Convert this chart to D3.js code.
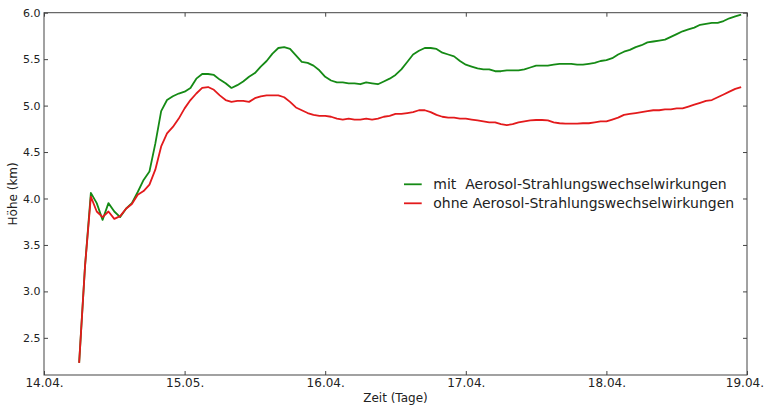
<!DOCTYPE html>
<html>
<head>
<meta charset="utf-8">
<script src="https://cdn.jsdelivr.net/npm/d3@7/dist/d3.min.js"></script>
<style>
  body { margin: 0; background: #fff; }
  svg { display: block; }
</style>
</head>
<body>
<div id="chart"></div>
<script>
// Data: hourly values, first sample at 14.04. 06:00
var startHour = 6;
var mitAerosol = [
  2.23, 3.27, 4.06, 3.95, 3.77, 3.95, 3.86, 3.80, 3.89, 3.95,
  4.07, 4.20, 4.29, 4.59, 4.94, 5.06, 5.10, 5.13, 5.15, 5.19,
  5.29, 5.34, 5.34, 5.33, 5.28, 5.24, 5.19, 5.22, 5.26, 5.31,
  5.35, 5.42, 5.48, 5.56, 5.62, 5.63, 5.61, 5.54, 5.47, 5.46,
  5.43, 5.38, 5.31, 5.27, 5.25, 5.25, 5.24, 5.24, 5.23, 5.25,
  5.24, 5.23, 5.26, 5.29, 5.33, 5.39, 5.47, 5.55, 5.59, 5.62,
  5.62, 5.61, 5.57, 5.55, 5.53, 5.48, 5.44, 5.42, 5.40, 5.39,
  5.39, 5.37, 5.37, 5.38, 5.38, 5.38, 5.39, 5.41, 5.43, 5.43,
  5.43, 5.44, 5.45, 5.45, 5.45, 5.44, 5.44, 5.45, 5.46, 5.48,
  5.49, 5.51, 5.55, 5.58, 5.60, 5.63, 5.65, 5.68, 5.69, 5.70,
  5.71, 5.74, 5.77, 5.80, 5.82, 5.84, 5.87, 5.88, 5.89, 5.89,
  5.91, 5.94, 5.96, 5.98
];
var ohneAerosol = [
  2.23, 3.27, 4.02, 3.86, 3.80, 3.86, 3.78, 3.81, 3.89, 3.94,
  4.04, 4.08, 4.15, 4.31, 4.56, 4.70, 4.77, 4.86, 4.97, 5.06,
  5.13, 5.19, 5.20, 5.17, 5.11, 5.06, 5.04, 5.05, 5.05, 5.04,
  5.08, 5.10, 5.11, 5.11, 5.11, 5.09, 5.04, 4.98, 4.95, 4.92,
  4.90, 4.89, 4.89, 4.88, 4.86, 4.85, 4.86, 4.85, 4.85, 4.86,
  4.85, 4.86, 4.88, 4.89, 4.91, 4.91, 4.92, 4.93, 4.95, 4.95,
  4.93, 4.90, 4.88, 4.87, 4.87, 4.86, 4.86, 4.85, 4.84, 4.83,
  4.82, 4.82, 4.80, 4.79, 4.80, 4.82, 4.83, 4.84, 4.845, 4.845,
  4.84, 4.82, 4.81, 4.805, 4.805, 4.805, 4.81, 4.81, 4.82, 4.83,
  4.83, 4.85, 4.87, 4.90, 4.91, 4.92, 4.93, 4.94, 4.95, 4.95,
  4.96, 4.96, 4.97, 4.97, 4.99, 5.01, 5.03, 5.05, 5.06, 5.09,
  5.12, 5.15, 5.18, 5.20
];
var dayTicks = [0, 1, 2, 3, 4, 5];
var dayLabels = ["14.04.", "15.05.", "16.04.", "17.04.", "18.04.", "19.04."];
var yTicks = [2.5, 3.0, 3.5, 4.0, 4.5, 5.0, 5.5, 6.0];
var seriesNames = ["mit  Aerosol-Strahlungswechselwirkungen", "ohne Aerosol-Strahlungswechselwirkungen"];
var seriesColours = ["#158a15", "#e31a1c"];

var width = 764, height = 408;
var margin = { top: 12.7, right: 17, bottom: 33, left: 44 };
var innerW = width - margin.left - margin.right;
var innerH = height - margin.top - margin.bottom;
var font = "'DejaVu Sans', sans-serif";

var svg = d3.select("#chart").append("svg")
  .attr("width", width).attr("height", height);
var g = svg.append("g")
  .attr("transform", "translate(" + margin.left + "," + margin.top + ")");

var x = d3.scaleLinear().domain([0, 5]).range([0, innerW]);
var y = d3.scaleLinear().domain([2.1, 6.0]).range([innerH, 0]);

function styleAxis(gg, size) {
  gg.select(".domain").remove();
  gg.selectAll(".tick line").attr("stroke", "#444");
  gg.selectAll(".tick text").attr("font-family", font).attr("font-size", size).attr("fill", "#222");
}

// Bottom / top
g.append("g").attr("transform", "translate(0," + innerH + ")")
  .call(d3.axisBottom(x).tickValues(dayTicks).tickSize(-4).tickPadding(3.5)
    .tickFormat(function (d, i) { return dayLabels[i]; }))
  .call(function (gg) { styleAxis(gg, 12); })
  .call(function (gg) {
    // keep the last label inside the page edge
    gg.selectAll(".tick text").filter(function (d) { return d === 5; })
      .attr("text-anchor", "end").attr("x", width - margin.left - innerW - 0.5);
  });
g.append("g")
  .call(d3.axisTop(x).tickValues(dayTicks).tickSize(-4).tickFormat(""))
  .call(function (gg) { styleAxis(gg, 12); });

// Left / right
g.append("g")
  .call(d3.axisLeft(y).tickValues(yTicks).tickSize(-4).tickPadding(3.5)
    .tickFormat(d3.format(".1f")))
  .call(function (gg) { styleAxis(gg, 11); });
g.append("g").attr("transform", "translate(" + innerW + ",0)")
  .call(d3.axisRight(y).tickValues(yTicks).tickSize(-4).tickFormat(""))
  .call(function (gg) { styleAxis(gg, 11); });

// Lines
var series = [mitAerosol, ohneAerosol];
var line = d3.line()
  .x(function (d, i) { return x((startHour + i) / 24); })
  .y(function (d) { return y(d); });
series.forEach(function (s, k) {
  g.append("path")
    .datum(s)
    .attr("fill", "none")
    .attr("stroke", seriesColours[k])
    .attr("stroke-width", 1.8)
    .attr("stroke-linejoin", "round")
    .attr("d", line);
});

// Frame
g.append("rect")
  .attr("width", innerW).attr("height", innerH)
  .attr("fill", "none").attr("stroke", "#444").attr("stroke-width", 1);

// Axis titles
svg.append("text")
  .attr("x", margin.left + innerW / 2).attr("y", 401.5)
  .attr("text-anchor", "middle").attr("font-family", font).attr("font-size", 12).attr("fill", "#222")
  .text("Zeit (Tage)");
svg.append("text")
  .attr("transform", "translate(16.5," + (margin.top + innerH / 2) + ") rotate(-90)")
  .attr("text-anchor", "middle").attr("font-family", font).attr("font-size", 12).attr("fill", "#222")
  .text("Höhe (km)");

// Legend (no frame)
var legend = svg.append("g").attr("transform", "translate(404,184.3)");
seriesNames.forEach(function (name, k) {
  var row = legend.append("g").attr("transform", "translate(0," + (k * 19) + ")");
  row.append("line")
    .attr("x1", 0).attr("x2", 17.7).attr("y1", 0).attr("y2", 0)
    .attr("stroke", seriesColours[k]).attr("stroke-width", 1.8);
  row.append("text")
    .attr("x", 29.3).attr("y", 4.8)
    .attr("font-family", font).attr("font-size", 14).attr("fill", "#222")
    .style("white-space", "pre")
    .text(name);
});
</script>
</body>
</html>
